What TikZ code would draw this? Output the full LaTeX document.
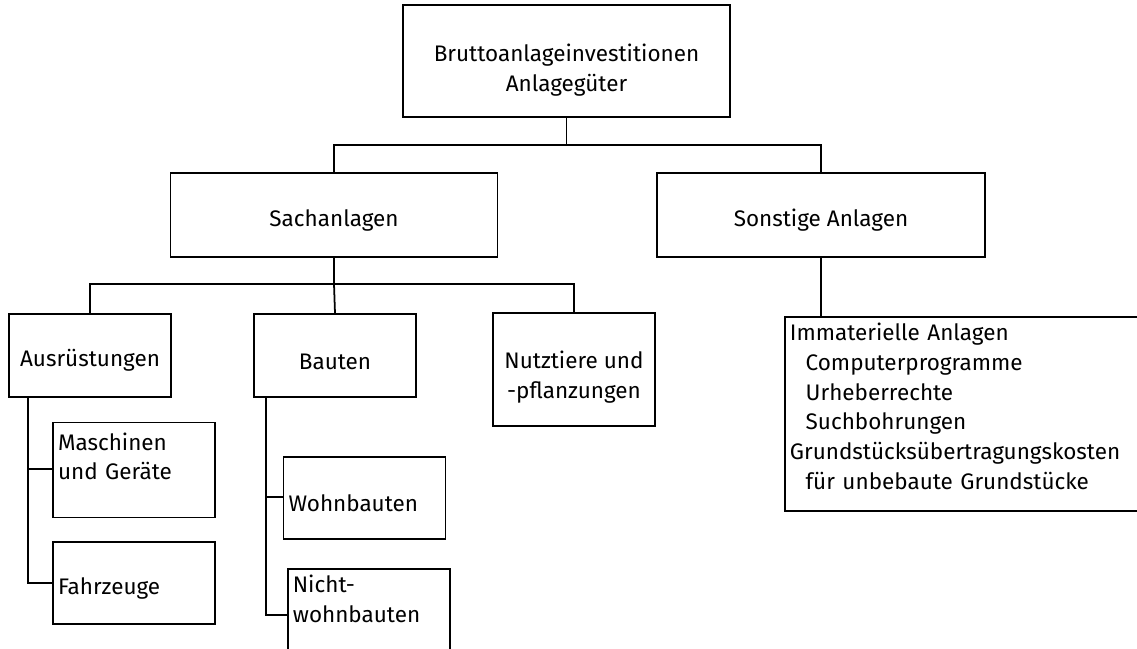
\documentclass[tikz,border=0pt]{standalone}
\usepackage{fontspec}
\setmainfont{Fira Sans}
\usepackage{tikz}
\usetikzlibrary{calc, positioning}

\tikzset{
  catbox/.style={draw, line width=1pt, align=center, inner sep=0pt, text height=0.55cm, font=\fontsize{12.8}{17}\selectfont},
  leafbox/.style={draw, line width=1pt, align=left, text width=3.04cm, inner xsep=0.1cm, inner ysep=0pt, font=\fontsize{12.8}{17}\selectfont},
  link/.style={line width=1pt}
}

\begin{document}
\begin{tikzpicture}[x=0.02cm, y=-0.02cm]
  \clip (0,0) rectangle (1137,649);

  % Top level
  \node[catbox, minimum width=6.54cm, minimum height=2.24cm, text height=1.31cm] (brutto) at (566.5,61) {Bruttoanlageinvestitionen\\Anlagegüter};
  \node[catbox, minimum width=6.54cm, minimum height=1.68cm] (sach) at (334,215) {Sachanlagen};
  \node[catbox, minimum width=6.56cm, minimum height=1.68cm] (sonst) at (821,215) {Sonstige Anlagen};

  % Sachanlagen
  \node[catbox, minimum width=3.24cm, minimum height=1.66cm] (ausr) at (90,355.5) {Ausrüstungen};
  \node[catbox, minimum width=3.24cm, minimum height=1.66cm] (bauten) at (335,355.5) {Bauten};
  \node[catbox, minimum width=3.24cm, minimum height=2.26cm, text height=1.27cm] (nutz) at (574,369.5) {Nutztiere und\\-pflanzungen};

  % Leaves
  \node[leafbox, minimum height=1.64cm, text height=0.55cm, text depth=1.35cm] (masch) at (134,470) {Maschinen\\und Geräte};
  \node[leafbox, minimum height=1.64cm, text height=0.55cm] (fahr) at (134,583) {Fahrzeuge};
  \node[leafbox, minimum height=1.64cm, text height=0.55cm] (wohn) at (364.5,498) {Wohnbauten};
  \node[leafbox, anchor=north west, inner ysep=0.1cm, text height=0.37cm, text depth=2.4cm] (nwb) at (287,568) {Nicht-\\wohnbauten};

  % Sonstige Anlagen
  \node[leafbox, anchor=north west, text width=7.6cm, inner ysep=0.14cm, text height=0.33cm, text depth=3.27cm] (imm) at (784,316)
    {Immaterielle Anlagen\\
     \hspace*{9pt}Computerprogramme\\
     \hspace*{9pt}Urheberrechte\\
     \hspace*{9pt}Suchbohrungen\\
     Grundstücksübertragungskosten\\
     \hspace*{9pt}für unbebaute Grundstücke};

  % Connectors
  \coordinate (j1) at (566.5,145);
  \coordinate (j2) at (334,284);
  \coordinate (nwbin) at (287,615);
  \draw[link] (brutto.south) -- (j1);
  \draw[link] (sach.north) |- (j1) -| (sonst.north);
  \draw[link] (sach.south) -- (j2);
  \draw[link] (ausr.north) |- (j2) -| (nutz.north);
  \draw[link] (j2) -- (bauten.north);
  \draw[link] ($(ausr.south west)+(20,0)$) |- (fahr.west);
  \draw[link] (masch.west |- 0,469) -- ++(-24,0);
  \draw[link] ($(bauten.south west)+(13,0)$) |- (nwbin);
  \draw[link] (wohn.west |- 0,497) -- ++(-16,0);
  \draw[link] (sonst.south) -- (sonst.south |- imm.north);
\end{tikzpicture}
\end{document}
